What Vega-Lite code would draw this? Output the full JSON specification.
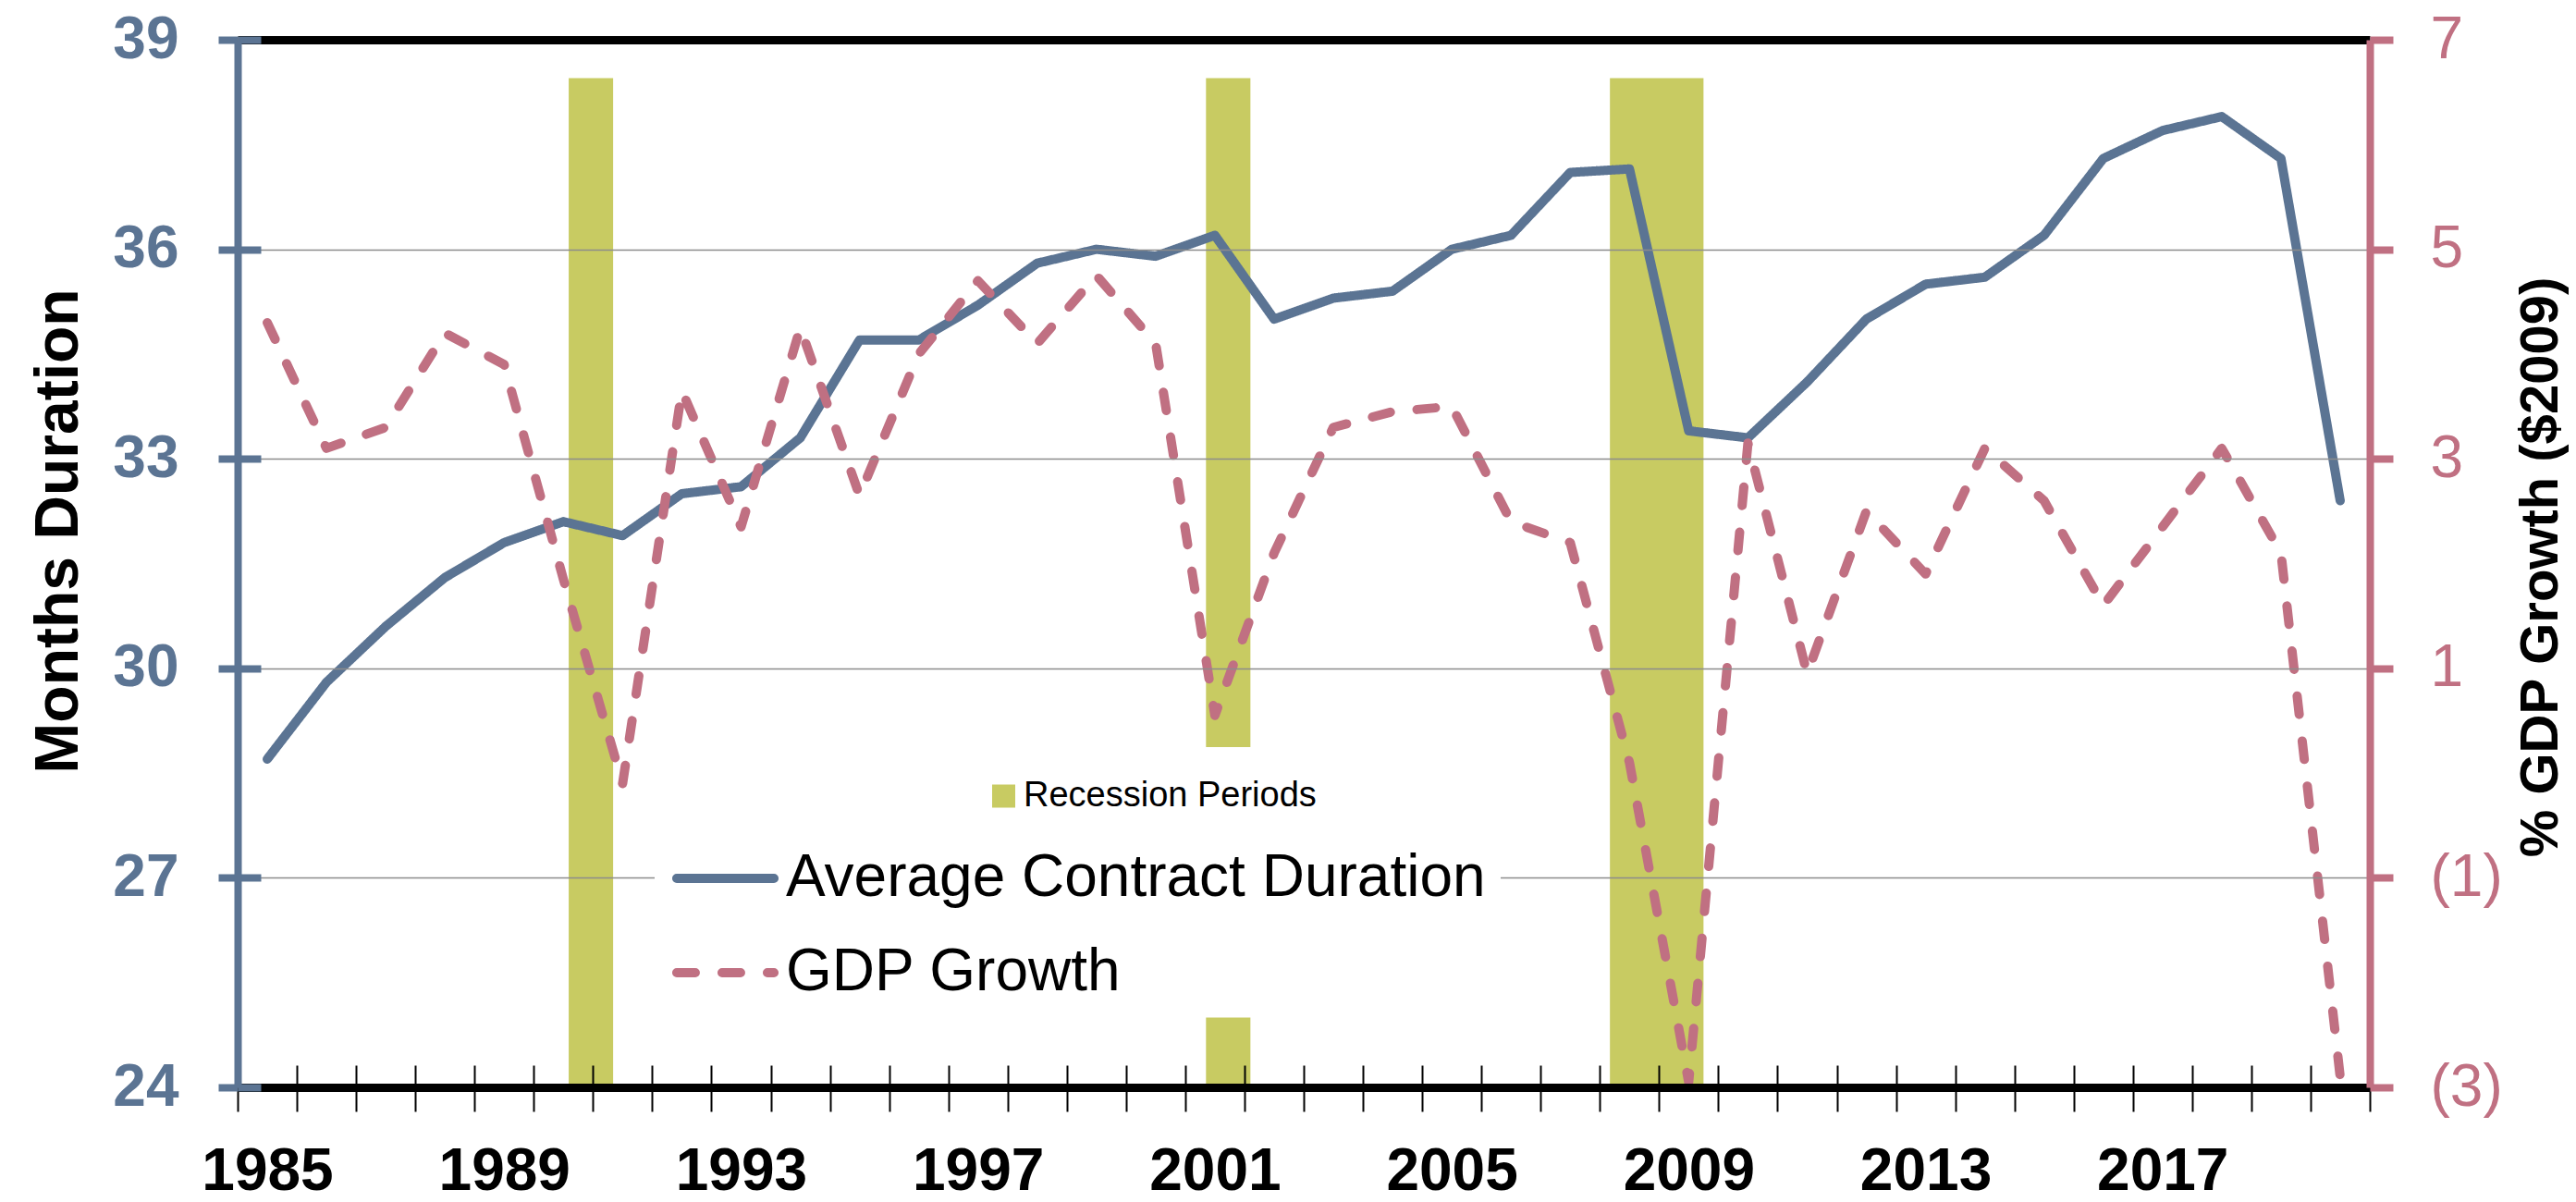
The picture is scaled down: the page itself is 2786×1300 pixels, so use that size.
{
  "$schema": "https://vega.github.io/schema/vega-lite/v6.json",
  "width": 2306,
  "height": 1133,
  "autosize": {"type": "none"},
  "padding": {"left": 257, "top": 43, "right": 223, "bottom": 124},
  "background": "white",
  "config": {"view": {"stroke": null}},
  "datasets": {
    "series": [
      {"year": 1985, "series": "Average Contract Duration", "value": 28.7},
      {"year": 1986, "series": "Average Contract Duration", "value": 29.8},
      {"year": 1987, "series": "Average Contract Duration", "value": 30.6},
      {"year": 1988, "series": "Average Contract Duration", "value": 31.3},
      {"year": 1989, "series": "Average Contract Duration", "value": 31.8},
      {"year": 1990, "series": "Average Contract Duration", "value": 32.1},
      {"year": 1991, "series": "Average Contract Duration", "value": 31.9},
      {"year": 1992, "series": "Average Contract Duration", "value": 32.5},
      {"year": 1993, "series": "Average Contract Duration", "value": 32.6},
      {"year": 1994, "series": "Average Contract Duration", "value": 33.3},
      {"year": 1995, "series": "Average Contract Duration", "value": 34.7},
      {"year": 1996, "series": "Average Contract Duration", "value": 34.7},
      {"year": 1997, "series": "Average Contract Duration", "value": 35.2},
      {"year": 1998, "series": "Average Contract Duration", "value": 35.8},
      {"year": 1999, "series": "Average Contract Duration", "value": 36.0},
      {"year": 2000, "series": "Average Contract Duration", "value": 35.9},
      {"year": 2001, "series": "Average Contract Duration", "value": 36.2},
      {"year": 2002, "series": "Average Contract Duration", "value": 35.0},
      {"year": 2003, "series": "Average Contract Duration", "value": 35.3},
      {"year": 2004, "series": "Average Contract Duration", "value": 35.4},
      {"year": 2005, "series": "Average Contract Duration", "value": 36.0},
      {"year": 2006, "series": "Average Contract Duration", "value": 36.2},
      {"year": 2007, "series": "Average Contract Duration", "value": 37.1},
      {"year": 2008, "series": "Average Contract Duration", "value": 37.15},
      {"year": 2009, "series": "Average Contract Duration", "value": 33.4},
      {"year": 2010, "series": "Average Contract Duration", "value": 33.3},
      {"year": 2011, "series": "Average Contract Duration", "value": 34.1},
      {"year": 2012, "series": "Average Contract Duration", "value": 35.0},
      {"year": 2013, "series": "Average Contract Duration", "value": 35.5},
      {"year": 2014, "series": "Average Contract Duration", "value": 35.6},
      {"year": 2015, "series": "Average Contract Duration", "value": 36.2},
      {"year": 2016, "series": "Average Contract Duration", "value": 37.3},
      {"year": 2017, "series": "Average Contract Duration", "value": 37.7},
      {"year": 2018, "series": "Average Contract Duration", "value": 37.9},
      {"year": 2019, "series": "Average Contract Duration", "value": 37.3},
      {"year": 2020, "series": "Average Contract Duration", "value": 32.4},
      {"year": 1985, "series": "GDP Growth", "value": 4.3},
      {"year": 1986, "series": "GDP Growth", "value": 3.1},
      {"year": 1987, "series": "GDP Growth", "value": 3.3},
      {"year": 1988, "series": "GDP Growth", "value": 4.2},
      {"year": 1989, "series": "GDP Growth", "value": 3.9},
      {"year": 1990, "series": "GDP Growth", "value": 1.85},
      {"year": 1991, "series": "GDP Growth", "value": -0.1},
      {"year": 1992, "series": "GDP Growth", "value": 3.65},
      {"year": 1993, "series": "GDP Growth", "value": 2.35},
      {"year": 1994, "series": "GDP Growth", "value": 4.25},
      {"year": 1995, "series": "GDP Growth", "value": 2.65},
      {"year": 1996, "series": "GDP Growth", "value": 4.0},
      {"year": 1997, "series": "GDP Growth", "value": 4.7},
      {"year": 1998, "series": "GDP Growth", "value": 4.1},
      {"year": 1999, "series": "GDP Growth", "value": 4.75},
      {"year": 2000, "series": "GDP Growth", "value": 4.1},
      {"year": 2001, "series": "GDP Growth", "value": 0.55},
      {"year": 2002, "series": "GDP Growth", "value": 2.1},
      {"year": 2003, "series": "GDP Growth", "value": 3.3},
      {"year": 2004, "series": "GDP Growth", "value": 3.45},
      {"year": 2005, "series": "GDP Growth", "value": 3.5},
      {"year": 2006, "series": "GDP Growth", "value": 2.4},
      {"year": 2007, "series": "GDP Growth", "value": 2.2},
      {"year": 2008, "series": "GDP Growth", "value": 0.1},
      {"year": 2009, "series": "GDP Growth", "value": -2.95},
      {"year": 2010, "series": "GDP Growth", "value": 3.15},
      {"year": 2011, "series": "GDP Growth", "value": 0.95},
      {"year": 2012, "series": "GDP Growth", "value": 2.5},
      {"year": 2013, "series": "GDP Growth", "value": 1.9},
      {"year": 2014, "series": "GDP Growth", "value": 3.1},
      {"year": 2015, "series": "GDP Growth", "value": 2.6},
      {"year": 2016, "series": "GDP Growth", "value": 1.6},
      {"year": 2017, "series": "GDP Growth", "value": 2.35},
      {"year": 2018, "series": "GDP Growth", "value": 3.1},
      {"year": 2019, "series": "GDP Growth", "value": 2.1},
      {"year": 2020, "series": "GDP Growth", "value": -2.9}
    ],
    "recessions": [
      {"start": 1990.09, "end": 1990.84, "label": "Recession Periods"},
      {"start": 2000.85, "end": 2001.6, "label": "Recession Periods"},
      {"start": 2007.67, "end": 2009.25, "label": "Recession Periods"}
    ]
  },
  "layer": [
    {
      "data": {"name": "recessions"},
      "mark": {"type": "rect", "color": "#C8CB62"},
      "encoding": {
        "x": {
          "field": "start", "type": "quantitative",
          "scale": {"domain": [1984.5, 2020.5], "nice": false, "zero": false},
          "axis": {
            "orient": "bottom",
            "values": [1984.5,1985.5,1986.5,1987.5,1988.5,1989.5,1990.5,1991.5,1992.5,1993.5,1994.5,1995.5,1996.5,1997.5,1998.5,1999.5,2000.5,2001.5,2002.5,2003.5,2004.5,2005.5,2006.5,2007.5,2008.5,2009.5,2010.5,2011.5,2012.5,2013.5,2014.5,2015.5,2016.5,2017.5,2018.5,2019.5,2020.5],
            "tickSize": -24, "tickColor": "black", "tickWidth": 2,
            "domain": false, "labels": false, "grid": false, "title": null, "zindex": 1
          }
        },
        "x2": {"field": "end"},
        "y": {
          "datum": 38.45, "type": "quantitative",
          "scale": {"domain": [24, 39], "nice": false, "zero": false},
          "axis": {
            "orient": "left", "values": [24, 27, 30, 33, 36, 39],
            "tickSize": -25, "tickColor": "#5B7493", "tickWidth": 8,
            "domain": false, "labels": false, "grid": false, "title": null, "zindex": 1
          }
        },
        "y2": {"datum": 24},
        "fill": {
          "field": "label", "type": "nominal",
          "scale": {"domain": ["Recession Periods"], "range": ["#C8CB62"]},
          "legend": {
            "title": null, "orient": "none", "legendX": 775.5, "legendY": 765,
            "symbolType": "square", "symbolSize": 625, "symbolStrokeWidth": 0,
            "labelOffset": 2.5, "labelFont": "Liberation Sans, Arial, sans-serif",
            "labelFontSize": 38, "labelColor": "black", "labelLimit": 0,
            "padding": 34, "fillColor": "white", "zindex": 2
          }
        }
      }
    },
    {
      "data": {"name": "series"},
      "transform": [{"filter": "datum.series == 'Average Contract Duration'"}],
      "mark": {"type": "line", "strokeWidth": 10, "strokeCap": "round", "strokeJoin": "round"},
      "encoding": {
        "x": {
          "field": "year", "type": "quantitative",
          "scale": {"domain": [1984.5, 2020.5], "nice": false, "zero": false},
          "axis": {
            "orient": "bottom",
            "values": [1984.5,1985.5,1986.5,1987.5,1988.5,1989.5,1990.5,1991.5,1992.5,1993.5,1994.5,1995.5,1996.5,1997.5,1998.5,1999.5,2000.5,2001.5,2002.5,2003.5,2004.5,2005.5,2006.5,2007.5,2008.5,2009.5,2010.5,2011.5,2012.5,2013.5,2014.5,2015.5,2016.5,2017.5,2018.5,2019.5,2020.5],
            "tickSize": 26, "tickColor": "black", "tickWidth": 2,
            "domainColor": "black", "domainWidth": 9,
            "labelExpr": "((datum.value + 0.5 - 1985) % 4 == 0 && datum.value < 2020) ? format(datum.value + 0.5, 'd') : ''",
            "labelOffset": 32, "labelPadding": 33,
            "labelFont": "Liberation Sans, Arial, sans-serif",
            "labelFontSize": 64, "labelFontWeight": "bold", "labelColor": "black",
            "labelOverlap": false, "labelFlush": false, "labelBound": false,
            "grid": false, "title": null, "zindex": 1
          }
        },
        "y": {
          "field": "value", "type": "quantitative",
          "scale": {"domain": [24, 39], "nice": false, "zero": false},
          "axis": {
            "orient": "left", "values": [24, 27, 30, 33, 36, 39],
            "domainColor": "#5B7493", "domainWidth": 8,
            "tickColor": "#5B7493", "tickWidth": 8, "tickSize": 21,
            "labelColor": "#5B7493", "labelFont": "Liberation Sans, Arial, sans-serif",
            "labelFontSize": 64, "labelFontWeight": "bold", "labelPadding": 43,
            "labelOverlap": false,
            "grid": true, "gridColor": "#8C8C8C", "gridWidth": 1.5,
            "gridOpacity": {"condition": {"test": "datum.value == 24 || datum.value == 39", "value": 0}, "value": 1},
            "title": "Months Duration",
            "titleFont": "Liberation Sans, Arial, sans-serif",
            "titleFontSize": 66, "titleFontWeight": "bold", "titleColor": "black",
            "titleAngle": 270, "titleX": -174, "titleY": 531,
            "titleAlign": "center", "titleBaseline": "alphabetic",
            "zindex": 1
          }
        },
        "color": {
          "field": "series", "type": "nominal",
          "scale": {"domain": ["Average Contract Duration", "GDP Growth"], "range": ["#5B7493", "#C07082"]},
          "legend": {
            "title": null, "orient": "none", "legendX": 451, "legendY": 850.5, "direction": "vertical",
            "symbolType": "M-1.48,0H1.48", "symbolSize": 5041, "symbolStrokeWidth": 10, "symbolOffset": 20,
            "labelOffset": 25, "labelFont": "Liberation Sans, Arial, sans-serif",
            "labelFontSize": 64, "labelColor": "black", "labelLimit": 0,
            "rowPadding": 29, "padding": 16, "fillColor": "white", "zindex": 2,
            "encode": {"symbols": {"update": {"strokeCap": {"value": "round"}}}}
          }
        },
        "strokeDash": {
          "field": "series", "type": "nominal",
          "scale": {"domain": ["Average Contract Duration", "GDP Growth"], "range": [[1, 0], [20, 29]]},
          "legend": {
            "title": null, "orient": "none", "legendX": 451, "legendY": 850.5, "direction": "vertical",
            "symbolType": "M-1.48,0H1.48", "symbolSize": 5041, "symbolStrokeWidth": 10, "symbolOffset": 20,
            "labelOffset": 25, "labelFont": "Liberation Sans, Arial, sans-serif",
            "labelFontSize": 64, "labelColor": "black", "labelLimit": 0,
            "rowPadding": 29, "padding": 16, "fillColor": "white", "zindex": 2,
            "encode": {"symbols": {"update": {"strokeCap": {"value": "round"}}}}
          }
        }
      }
    },
    {
      "data": {"name": "series"},
      "transform": [{"filter": "datum.series == 'GDP Growth'"}],
      "mark": {"type": "line", "strokeWidth": 10, "strokeCap": "round", "strokeJoin": "round"},
      "encoding": {
        "x": {
          "field": "year", "type": "quantitative",
          "scale": {"domain": [1984.5, 2020.5], "nice": false, "zero": false},
          "axis": {
            "orient": "top", "domainColor": "black", "domainWidth": 9,
            "ticks": false, "labels": false, "grid": false, "title": null, "zindex": 1
          }
        },
        "y": {
          "field": "value", "type": "quantitative",
          "scale": {"domain": [-3, 7], "nice": false, "zero": false},
          "axis": {
            "orient": "right", "values": [-3, -1, 1, 3, 5, 7],
            "domainColor": "#C07082", "domainWidth": 8,
            "tickColor": "#C07082", "tickWidth": 8, "tickSize": 25,
            "labelColor": "#C07082", "labelFont": "Liberation Sans, Arial, sans-serif",
            "labelFontSize": 64, "labelPadding": 40, "labelOverlap": false,
            "labelExpr": "datum.value < 0 ? '(' + format(-datum.value, 'd') + ')' : format(datum.value, 'd')",
            "grid": false,
            "title": "% GDP Growth ($2009)",
            "titleFont": "Liberation Sans, Arial, sans-serif",
            "titleFontSize": 58, "titleFontWeight": "bold", "titleColor": "black",
            "titleAngle": 270, "titleX": 202, "titleY": 570,
            "titleAlign": "center", "titleBaseline": "alphabetic",
            "zindex": 1
          }
        },
        "color": {
          "field": "series", "type": "nominal",
          "scale": {"domain": ["Average Contract Duration", "GDP Growth"], "range": ["#5B7493", "#C07082"]},
          "legend": {
            "title": null, "orient": "none", "legendX": 451, "legendY": 850.5, "direction": "vertical",
            "symbolType": "M-1.48,0H1.48", "symbolSize": 5041, "symbolStrokeWidth": 10, "symbolOffset": 20,
            "labelOffset": 25, "labelFont": "Liberation Sans, Arial, sans-serif",
            "labelFontSize": 64, "labelColor": "black", "labelLimit": 0,
            "rowPadding": 29, "padding": 16, "fillColor": "white", "zindex": 2,
            "encode": {"symbols": {"update": {"strokeCap": {"value": "round"}}}}
          }
        },
        "strokeDash": {
          "field": "series", "type": "nominal",
          "scale": {"domain": ["Average Contract Duration", "GDP Growth"], "range": [[1, 0], [20, 29]]},
          "legend": {
            "title": null, "orient": "none", "legendX": 451, "legendY": 850.5, "direction": "vertical",
            "symbolType": "M-1.48,0H1.48", "symbolSize": 5041, "symbolStrokeWidth": 10, "symbolOffset": 20,
            "labelOffset": 25, "labelFont": "Liberation Sans, Arial, sans-serif",
            "labelFontSize": 64, "labelColor": "black", "labelLimit": 0,
            "rowPadding": 29, "padding": 16, "fillColor": "white", "zindex": 2,
            "encode": {"symbols": {"update": {"strokeCap": {"value": "round"}}}}
          }
        }
      }
    }
  ],
  "resolve": {"scale": {"y": "independent"}, "axis": {"x": "independent"}}
}
